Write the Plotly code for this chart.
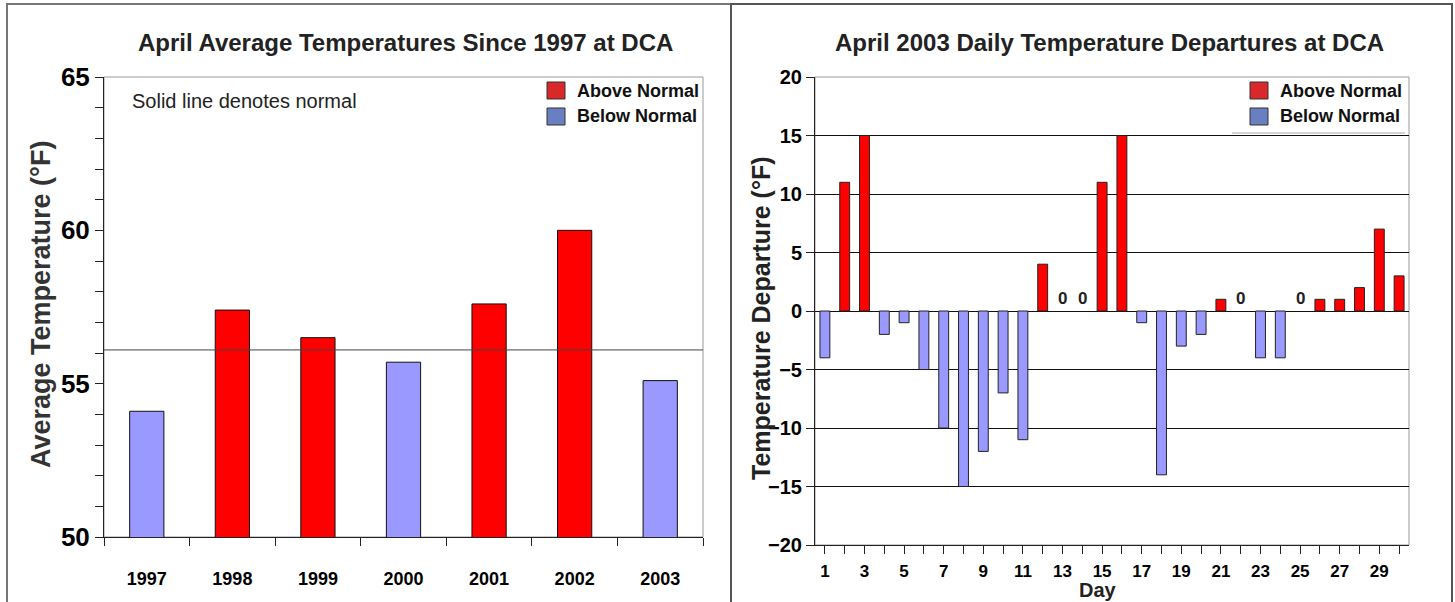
import plotly.graph_objects as go

# ---------------- data ----------------
years = ["1997", "1998", "1999", "2000", "2001", "2002", "2003"]
april_avg = [54.1, 57.4, 56.5, 55.7, 57.6, 60.0, 55.1]
normal_avg = 56.1

days = list(range(1, 31))
departures = [-4, 11, 15, -2, -1, -5, -10, -15, -12, -7, -11, 4, 0, 0, 11,
              15, -1, -14, -3, -2, 1, 0, -4, -4, 0, 1, 1, 2, 7, 3]
day_labels = [str(d) if d % 2 == 1 else "" for d in days]

left_title = "April Average Temperatures Since 1997 at DCA"
right_title = "April 2003 Daily Temperature Departures at DCA"

# ---------------- style ----------------
W, H = 1455, 602
RED, BLUE = "#ff0000", "#9999ff"
LEG_RED, LEG_BLUE = "#d8282a", "#6a7fbf"
ARIAL = "Liberation Sans, Arial, sans-serif"


def px(x):
    return x / W


def py(y):
    return 1 - y / H


fig = go.Figure()

left_colors = [RED if v > normal_avg else BLUE for v in april_avg]
fig.add_trace(go.Bar(x=years, y=april_avg, width=0.4,
                     marker=dict(color=left_colors, line=dict(color="#111", width=1)),
                     xaxis="x", yaxis="y", showlegend=False))

right_colors = [RED if v > 0 else BLUE for v in departures]
right_lw = [1 if v != 0 else 0 for v in departures]
fig.add_trace(go.Bar(x=days, y=departures, width=0.5,
                     marker=dict(color=right_colors, line=dict(color="#222", width=right_lw)),
                     xaxis="x2", yaxis="y2", showlegend=False))

fig.update_layout(
    width=W, height=H, margin=dict(l=0, r=0, t=0, b=0, autoexpand=False),
    paper_bgcolor="white", plot_bgcolor="white",
    barmode="overlay",
    xaxis=dict(domain=[px(104), px(703)], type="category", tickson="boundaries",
               automargin=False,
               showline=True, linecolor="#222", linewidth=1,
               ticks="outside", ticklen=8, tickcolor="#222",
               ticklabelstandoff=25,
               tickfont=dict(family=ARIAL, size=18, color="black", weight="bold"),
               showgrid=False, fixedrange=True),
    yaxis=dict(domain=[py(537), py(77)], range=[50, 65], tickvals=[50, 55, 60, 65],
               automargin=False,
               showline=True, linecolor="#222", linewidth=1,
               ticks="outside", ticklen=8, tickcolor="#222",
               minor=dict(dtick=1, ticks="outside", ticklen=8, tickcolor="#222"),
               tickfont=dict(family=ARIAL, size=26, color="black", weight="bold"),
               showgrid=False, zeroline=False, fixedrange=True),
    xaxis2=dict(domain=[px(815), px(1409)], range=[0.5, 30.5], tickvals=days,
                ticktext=day_labels, automargin=False,
                showline=True, linecolor="#222", linewidth=1,
                ticks="outside", ticklen=8, tickcolor="#222",
                ticklabelstandoff=3,
                tickfont=dict(family=ARIAL, size=17, color="black", weight="bold"),
                showgrid=False, zeroline=False, anchor="y2", fixedrange=True),
    yaxis2=dict(domain=[py(545), py(77)], range=[-20, 20], dtick=5,
                automargin=False,
                showline=True, linecolor="#222", linewidth=1,
                ticks="outside", ticklen=8, tickcolor="#222",
                tickfont=dict(family=ARIAL, size=20, color="black", weight="bold"),
                showgrid=True, gridcolor="#111", gridwidth=1,
                zeroline=True, zerolinecolor="#111", zerolinewidth=1,
                anchor="x2", fixedrange=True),
)

shapes = []
# panel frames
shapes.append(dict(type="rect", xref="paper", yref="paper", x0=px(7), x1=px(731),
                   y0=py(605), y1=py(4), line=dict(color="#777", width=2), layer="below"))
shapes.append(dict(type="rect", xref="paper", yref="paper", x0=px(731), x1=px(1452),
                   y0=py(605), y1=py(4), line=dict(color="#555", width=2), layer="below"))
# plot boxes
shapes.append(dict(type="rect", xref="x domain", yref="y domain", x0=0, x1=1, y0=0, y1=1,
                   line=dict(color="#999", width=1), layer="below"))
shapes.append(dict(type="rect", xref="x2 domain", yref="y2 domain", x0=0, x1=1, y0=0, y1=1,
                   line=dict(color="#999", width=1), layer="below"))
# normal line
shapes.append(dict(type="line", xref="x domain", yref="y", x0=0, x1=1,
                   y0=normal_avg, y1=normal_avg, line=dict(color="#444", width=1), layer="above"))

annotations = []
# titles
for txt, xc in [(left_title, 405), (right_title, 1109)]:
    annotations.append(dict(text=txt, xref="paper", yref="paper", x=px(xc), y=py(42),
                            showarrow=False, xanchor="center", yanchor="middle",
                            font=dict(family=ARIAL, size=24, color="#222", weight="bold")))
# y axis titles
annotations.append(dict(text="Average Temperature (°F)", xref="paper", yref="paper",
                        x=px(41), y=py(305), textangle=-90, showarrow=False,
                        xanchor="center", yanchor="middle",
                        font=dict(family=ARIAL, size=27, color="#333", weight="bold")))
annotations.append(dict(text="Temperature Departure (°F)", xref="paper", yref="paper",
                        x=px(761), y=py(318), textangle=-90, showarrow=False,
                        xanchor="center", yanchor="middle",
                        font=dict(family=ARIAL, size=25, color="#222", weight="bold")))
# note
annotations.append(dict(text="Solid line denotes normal", xref="paper", yref="paper",
                        x=px(130), y=py(101), xanchor="left", yanchor="middle", showarrow=False,
                        font=dict(family=ARIAL, size=20, color="#222")))
# Day label
annotations.append(dict(text="Day", xref="paper", yref="paper", x=px(1098), y=py(590),
                        showarrow=False, xanchor="center", yanchor="middle",
                        font=dict(family=ARIAL, size=20, color="#222", weight="bold")))
# zero labels
for d, v in zip(days, departures):
    if v == 0:
        annotations.append(dict(text="0", x=d, y=0, xref="x2", yref="y2", showarrow=False,
                                xanchor="center", yanchor="bottom", yshift=1,
                                font=dict(family=ARIAL, size=17, color="#222", weight="bold")))

# legends
for sx, tx in [(547, 575), (1250, 1278)]:
    for (y0, y1, col, lab) in [(82, 99, LEG_RED, "Above Normal"), (108, 125, LEG_BLUE, "Below Normal")]:
        shapes.append(dict(type="rect", xref="paper", yref="paper",
                           x0=px(sx), x1=px(sx + 18), y0=py(y1), y1=py(y0),
                           fillcolor=col, line=dict(color="#333", width=1)))
        annotations.append(dict(text=lab, xref="paper", yref="paper", x=px(tx), y=py((y0 + y1) / 2),
                                xanchor="left", yanchor="middle", showarrow=False,
                                font=dict(family=ARIAL, size=18, color="#111", weight="bold")))
shapes.append(dict(type="line", xref="paper", yref="paper", x0=px(1232), x1=px(1405),
                   y0=py(133), y1=py(133), line=dict(color="#aaa", width=1)))

fig.update_layout(shapes=shapes, annotations=annotations)
fig.write_html("out.html", config={"displayModeBar": False},
               post_script="document.body.style.margin='0px';document.body.style.overflow='hidden';")
